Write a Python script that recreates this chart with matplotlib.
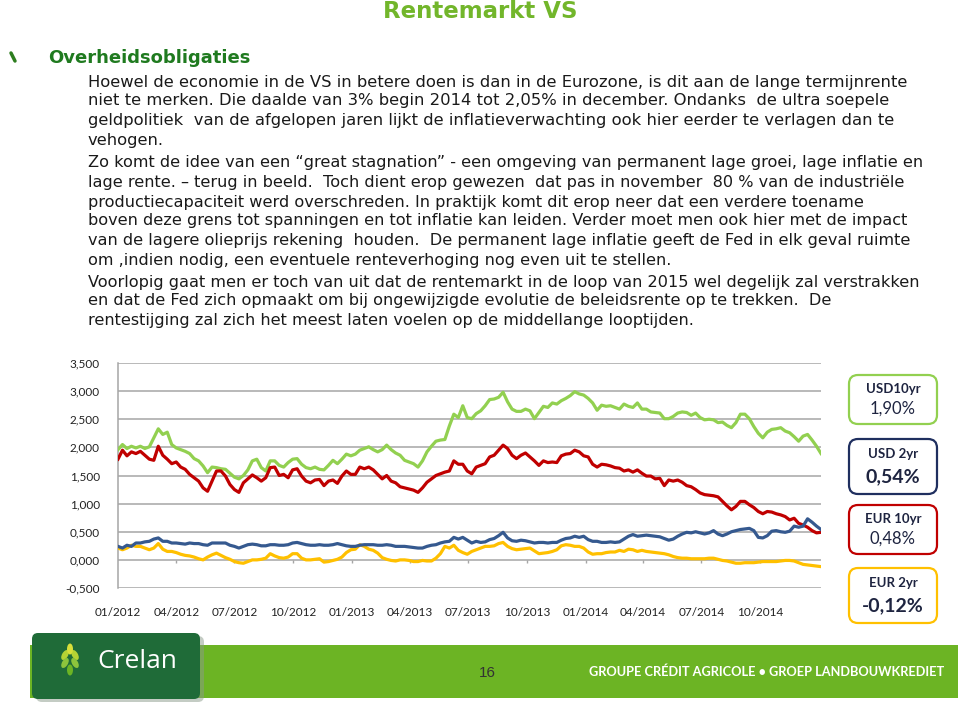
import matplotlib
matplotlib.use("Agg")
import matplotlib.pyplot as plt
from matplotlib.patches import FancyBboxPatch, Rectangle, Ellipse
import pandas as pd

# ==============
# data (weekly readings)
# ==============
dates = pd.date_range("2012-01-01", periods=158, freq="7D")

usd10 = [1.96, 2.05, 1.98, 2.02, 1.99, 2.02, 1.98, 2.01, 2.17, 2.33, 2.23, 2.27, 2.05, 1.99, 1.96, 1.93, 1.89, 1.80, 1.76, 1.67, 1.55, 1.65, 1.64, 1.62, 1.61, 1.54, 1.47,
         1.44, 1.50, 1.60, 1.76, 1.79, 1.64, 1.58, 1.76, 1.76, 1.68, 1.65, 1.73, 1.79, 1.80, 1.70, 1.64, 1.62, 1.65, 1.61, 1.60, 1.68, 1.77, 1.71, 1.79, 1.88, 1.85,
         1.88, 1.95, 1.98, 2.01, 1.96, 1.92, 1.96, 2.04, 1.96, 1.90, 1.86, 1.77, 1.74, 1.71, 1.65, 1.76, 1.92, 2.02, 2.11, 2.13, 2.14, 2.38, 2.59, 2.53, 2.74, 2.53,
         2.51, 2.60, 2.65, 2.74, 2.85, 2.86, 2.89, 2.98, 2.81, 2.68, 2.64, 2.64, 2.68, 2.65, 2.51, 2.62, 2.73, 2.71, 2.79, 2.77, 2.83, 2.87, 2.92, 2.99, 2.95, 2.93,
         2.87, 2.79, 2.66, 2.75, 2.73, 2.74, 2.71, 2.68, 2.77, 2.73, 2.71, 2.79, 2.68, 2.68, 2.63, 2.62, 2.61, 2.51, 2.51, 2.55, 2.61, 2.63, 2.62, 2.57, 2.61, 2.53, 2.49,
         2.50, 2.49, 2.44, 2.45, 2.39, 2.35, 2.44, 2.59, 2.59, 2.51, 2.37, 2.25, 2.17, 2.27, 2.32, 2.33, 2.35, 2.29, 2.26, 2.19, 2.11, 2.20, 2.23, 2.13, 2.02, 1.89]

eur10 = [1.79, 1.95, 1.85, 1.92, 1.89, 1.93, 1.86, 1.79, 1.77, 2.02, 1.86, 1.79, 1.71, 1.74, 1.65, 1.61, 1.52, 1.46, 1.40, 1.28, 1.22, 1.40, 1.58, 1.58, 1.49, 1.34, 1.25,
         1.20, 1.37, 1.44, 1.51, 1.46, 1.40, 1.46, 1.64, 1.65, 1.50, 1.52, 1.46, 1.60, 1.62, 1.49, 1.40, 1.37, 1.42, 1.43, 1.32, 1.40, 1.42, 1.36, 1.49, 1.58, 1.52,
         1.52, 1.65, 1.62, 1.65, 1.60, 1.52, 1.44, 1.50, 1.40, 1.37, 1.30, 1.28, 1.26, 1.24, 1.20, 1.28, 1.38, 1.44, 1.50, 1.53, 1.56, 1.58, 1.76, 1.70, 1.70, 1.58,
         1.53, 1.65, 1.68, 1.71, 1.83, 1.86, 1.95, 2.04, 1.98, 1.86, 1.80, 1.86, 1.90, 1.83, 1.76, 1.68, 1.76, 1.73, 1.74, 1.73, 1.85, 1.88, 1.89, 1.95, 1.92, 1.85,
         1.83, 1.70, 1.65, 1.70, 1.69, 1.67, 1.64, 1.63, 1.58, 1.60, 1.56, 1.60, 1.54, 1.49, 1.49, 1.44, 1.45, 1.32, 1.42, 1.40, 1.42, 1.38, 1.32, 1.30, 1.25, 1.19, 1.16,
         1.15, 1.14, 1.12, 1.04, 0.96, 0.89, 0.95, 1.04, 1.04, 0.98, 0.93, 0.86, 0.82, 0.86, 0.85, 0.82, 0.80, 0.77, 0.71, 0.74, 0.65, 0.62, 0.58, 0.52, 0.48, 0.49]

usd2 = [0.24, 0.21, 0.26, 0.24, 0.30, 0.30, 0.32, 0.33, 0.37, 0.39, 0.33, 0.33, 0.30, 0.30, 0.29, 0.28, 0.30, 0.29, 0.29, 0.27, 0.26, 0.30, 0.30, 0.30, 0.30, 0.26, 0.24,
        0.21, 0.24, 0.27, 0.28, 0.27, 0.25, 0.25, 0.27, 0.27, 0.26, 0.26, 0.27, 0.30, 0.31, 0.29, 0.27, 0.26, 0.26, 0.27, 0.26, 0.26, 0.27, 0.29, 0.27, 0.25, 0.24,
        0.24, 0.26, 0.27, 0.27, 0.27, 0.26, 0.26, 0.27, 0.26, 0.24, 0.24, 0.24, 0.23, 0.22, 0.21, 0.21, 0.24, 0.26, 0.27, 0.30, 0.32, 0.33, 0.40, 0.37, 0.40, 0.35,
        0.30, 0.33, 0.31, 0.32, 0.36, 0.38, 0.43, 0.49, 0.39, 0.34, 0.33, 0.35, 0.34, 0.32, 0.30, 0.31, 0.31, 0.30, 0.31, 0.31, 0.35, 0.38, 0.39, 0.42, 0.40, 0.42,
        0.36, 0.33, 0.33, 0.31, 0.31, 0.32, 0.31, 0.32, 0.37, 0.42, 0.45, 0.42, 0.43, 0.44, 0.43, 0.42, 0.41, 0.38, 0.35, 0.37, 0.42, 0.46, 0.49, 0.48, 0.50, 0.48, 0.46,
        0.48, 0.52, 0.46, 0.43, 0.46, 0.50, 0.52, 0.54, 0.55, 0.56, 0.52, 0.40, 0.39, 0.43, 0.51, 0.52, 0.50, 0.49, 0.51, 0.60, 0.58, 0.60, 0.73, 0.67, 0.60, 0.54]

eur2 = [0.21, 0.18, 0.21, 0.26, 0.24, 0.24, 0.21, 0.18, 0.21, 0.29, 0.19, 0.15, 0.15, 0.13, 0.10, 0.08, 0.07, 0.05, 0.02, 0.00, 0.05, 0.09, 0.12, 0.08, 0.04, 0.01, -0.03,
        -0.05, -0.06, -0.03, 0.00, 0.00, 0.01, 0.03, 0.11, 0.07, 0.04, 0.03, 0.05, 0.11, 0.11, 0.03, 0.00, 0.00, 0.01, 0.02, -0.04, -0.03, -0.01, 0.01, 0.05, 0.13, 0.18,
        0.19, 0.27, 0.24, 0.19, 0.17, 0.12, 0.04, 0.01, -0.01, -0.02, 0.00, 0.00, -0.01, -0.03, -0.03, -0.01, -0.02, -0.02, 0.03, 0.11, 0.24, 0.21, 0.26, 0.17, 0.13, 0.10,
        0.15, 0.18, 0.21, 0.24, 0.24, 0.25, 0.29, 0.31, 0.24, 0.20, 0.18, 0.19, 0.20, 0.21, 0.16, 0.11, 0.12, 0.13, 0.15, 0.18, 0.25, 0.27, 0.26, 0.24, 0.24, 0.21,
        0.14, 0.10, 0.11, 0.11, 0.13, 0.14, 0.14, 0.17, 0.15, 0.19, 0.18, 0.15, 0.17, 0.15, 0.14, 0.13, 0.12, 0.11, 0.09, 0.06, 0.04, 0.03, 0.03, 0.02, 0.02, 0.02, 0.02,
        0.03, 0.03, 0.01, -0.01, -0.02, -0.04, -0.06, -0.06, -0.05, -0.05, -0.05, -0.04, -0.03, -0.03, -0.03, -0.03, -0.02, -0.01, -0.01, -0.02, -0.05, -0.08, -0.09, -0.10, -0.11, -0.12]

y_ticks = [-0.5, 0.0, 0.5, 1.0, 1.5, 2.0, 2.5, 3.0, 3.5]
x_ticks = pd.date_range("2012-01-01", "2014-10-01", freq="QS")

box_labels = ["USD10yr", "USD 2yr", "EUR 10yr", "EUR 2yr"]
box_values = ["1,90%", "0,54%", "0,48%", "-0,12%"]

title = "Rentemarkt VS"
heading = "Overheidsobligaties"
body_lines = [
    "Hoewel de economie in de VS in betere doen is dan in de Eurozone, is dit aan de lange termijnrente",
    "niet te merken. Die daalde van 3% begin 2014 tot 2,05% in december. Ondanks  de ultra soepele",
    "geldpolitiek  van de afgelopen jaren lijkt de inflatieverwachting ook hier eerder te verlagen dan te",
    "vehogen.",
    "Zo komt de idee van een \u201cgreat stagnation\u201d - een omgeving van permanent lage groei, lage inflatie en",
    "lage rente. \u2013 terug in beeld.  Toch dient erop gewezen  dat pas in november  80 % van de industri\u00eble",
    "productiecapaciteit werd overschreden. In praktijk komt dit erop neer dat een verdere toename",
    "boven deze grens tot spanningen en tot inflatie kan leiden. Verder moet men ook hier met de impact",
    "van de lagere olieprijs rekening  houden.  De permanent lage inflatie geeft de Fed in elk geval ruimte",
    "om ,indien nodig, een eventuele renteverhoging nog even uit te stellen.",
    "Voorlopig gaat men er toch van uit dat de rentemarkt in de loop van 2015 wel degelijk zal verstrakken",
    "en dat de Fed zich opmaakt om bij ongewijzigde evolutie de beleidsrente op te trekken.  De",
    "rentestijging zal zich het meest laten voelen op de middellange looptijden.",
]
body_y = [82, 101, 121, 140, 163, 182, 202, 221, 241, 260, 282, 301, 321]
body_size = [11.8, 11.8, 11.8, 11.8] + [11.6] * 9

GREEN = "#92d050"
RED = "#c00000"
BLUE = "#35598f"
YELLOW = "#ffc000"
GRID = "#a6a6a6"

fig = plt.figure(figsize=(9.6, 7.05), dpi=100)

# ==============
# overlay in pixel coordinates for the slide decoration
# ==============
ov = fig.add_axes([0, 0, 1, 1])
ov.set_xlim(0, 960)
ov.set_ylim(705, 0)
ov.axis("off")

ov.text(480, 12, title, ha="center", va="center", fontsize=16.5,
        fontweight="bold", color="#72b62b", family="DejaVu Sans")
ov.plot([11, 15], [53, 61], color="#2d7d1f", lw=2.5, solid_capstyle="round")
ov.text(48, 58, heading, ha="left", va="center", fontsize=13,
        fontweight="bold", color="#1f7a1f", family="DejaVu Sans")
for line, yy, fs in zip(body_lines, body_y, body_size):
    ov.text(88, yy, line, ha="left", va="center", fontsize=fs,
            color="#1a1a1a", family="DejaVu Sans")

# value boxes
box_colors = [GREEN, "#1f2f5f", RED, YELLOW]
box_top = [375, 439, 505, 568]
box_h = [49, 55, 49, 55]
val_size = [12, 14, 12, 14]
val_weight = ["normal", "bold", "normal", "bold"]
for lab, val, col, top, h, vs, vw in zip(box_labels, box_values, box_colors,
                                         box_top, box_h, val_size, val_weight):
    ov.add_patch(FancyBboxPatch((849, top), 88, h,
                                boxstyle="round,pad=0,rounding_size=9",
                                fc="white", ec=col, lw=1.6))
    ov.text(893, top + h * 0.28, lab, ha="center", va="center", fontsize=9.5,
            fontweight="bold", color="#1e2440", family="Lato")
    ov.text(893, top + h * 0.69, val, ha="center", va="center", fontsize=vs,
            fontweight=vw, color="#1e2440", family="Lato")

# footer band and logo
ov.add_patch(Rectangle((30, 645), 928, 53, fc="#6cb424", ec="none"))
ov.add_patch(FancyBboxPatch((36, 636), 168, 66,
                            boxstyle="round,pad=0,rounding_size=6",
                            fc="#8a9a8a", ec="none", alpha=0.5))
ov.add_patch(FancyBboxPatch((32, 633), 168, 66,
                            boxstyle="round,pad=0,rounding_size=6",
                            fc="#1f6b38", ec="none"))
for dx, dy, ang, col in [(-5, -7, 30, "#b5d334"), (5, -7, -30, "#b5d334"),
                         (-5, 1, 30, "#8cc43c"), (5, 1, -30, "#8cc43c"),
                         (0, -13, 0, "#d7df3a"), (0, 8, 0, "#6cb424")]:
    ov.add_patch(Ellipse((70 + dx, 662 + dy), 6, 11, angle=ang, fc=col, ec="none"))
ov.text(137, 662, "Crelan", ha="center", va="center", fontsize=19,
        color="white", family="Open Sans")
ov.text(487, 673, "16", ha="center", va="center", fontsize=11,
        color="#333333", family="Liberation Sans")
ov.text(767, 672, "GROUPE CR\u00c9DIT AGRICOLE \u2022 GROEP LANDBOUWKREDIET",
        ha="center", va="center", fontsize=9.2, fontweight="bold",
        color="white", family="Lato")

# ==============
# line chart
# ==============
ax = fig.add_axes([118 / 960, 1 - 588 / 705, 703 / 960, 225 / 705])
ax.set_facecolor("none")
ax.set_ylim(-0.5, 3.5)
ax.set_xlim(dates[0], dates[-1])
for v in y_ticks:
    ax.axhline(v, color=GRID, lw=1.1, zorder=1)
ax.vlines(x_ticks[1:], -0.06, 0, color=GRID, lw=1, zorder=1)

ax.plot(dates, usd10, color=GREEN, lw=2.3, zorder=3)
ax.plot(dates, eur10, color=RED, lw=2.3, zorder=3)
ax.plot(dates, usd2, color=BLUE, lw=2.3, zorder=4)
ax.plot(dates, eur2, color=YELLOW, lw=2.3, zorder=3)

ax.set_yticks(y_ticks)
ax.set_yticklabels([f"{v:.3f}".replace(".", ",") for v in y_ticks])
ax.set_xticks(x_ticks)
ax.set_xticklabels([d.strftime("%m/%Y") for d in x_ticks])
ax.tick_params(axis="both", length=0, labelsize=8.5, labelcolor="#222222")
ax.tick_params(axis="y", pad=13)
ax.tick_params(axis="x", pad=14)
for lab in ax.get_xticklabels() + ax.get_yticklabels():
    lab.set_family("Lato")
for side in ["top", "right", "bottom"]:
    ax.spines[side].set_visible(False)
ax.spines["left"].set_color(GRID)
ax.spines["left"].set_linewidth(1.1)

fig.savefig("out.png", dpi=100)
plt.close(fig)
